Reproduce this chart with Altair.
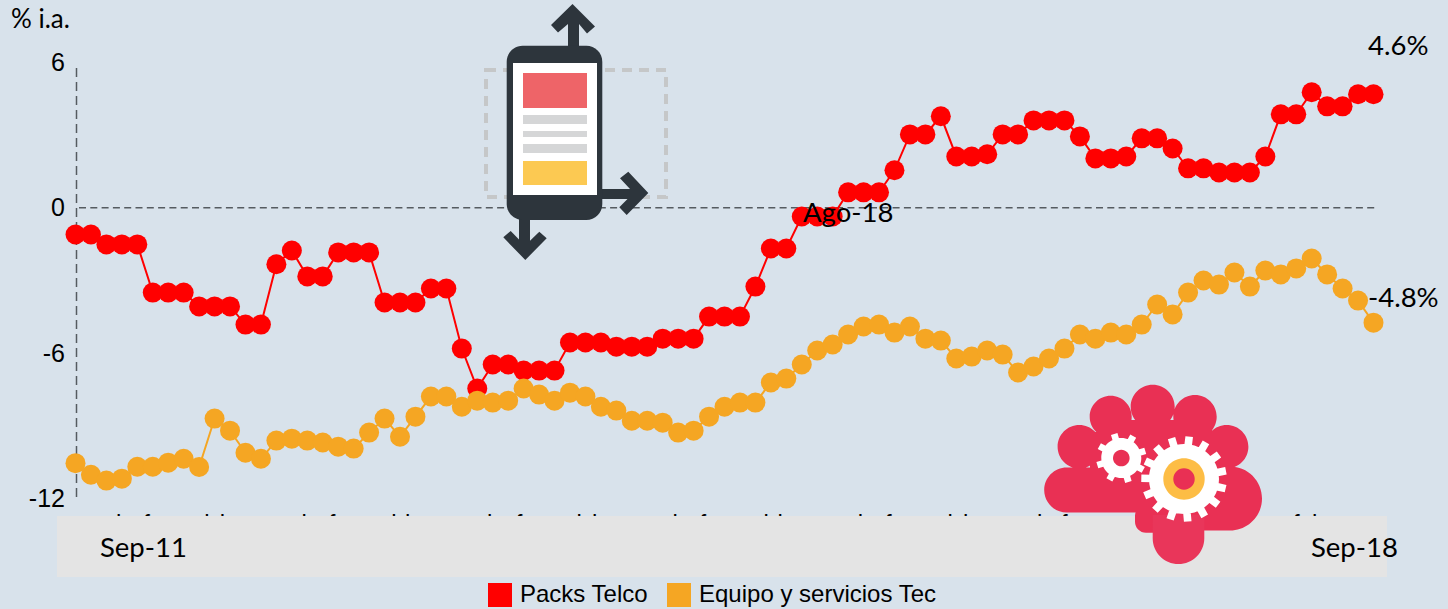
import math
import altair as alt
import pandas as pd

packs = [-1.10,-1.10,-1.51,-1.51,-1.51,-3.50,-3.50,-3.50,-4.07,-4.07,-4.07,-4.82,-4.82,-2.33,-1.76,-2.83,-2.83,-1.84,-1.84,-1.84,
         -3.91,-3.91,-3.91,-3.33,-3.33,-5.81,-7.46,-6.47,-6.47,-6.72,-6.72,-6.72,-5.56,-5.56,-5.56,-5.73,-5.73,-5.73,-5.40,-5.40,
         -5.40,-4.49,-4.49,-4.49,-3.25,-1.68,-1.68,-0.36,-0.36,-0.36,0.64,0.64,0.64,1.55,3.03,3.03,3.78,2.12,2.12,2.21,
         3.03,3.03,3.61,3.61,3.61,2.95,2.04,2.04,2.12,2.87,2.87,2.45,1.63,1.63,1.46,1.46,1.46,2.12,3.86,3.86,
         4.77,4.19,4.19,4.69,4.69]
equipo = [-10.54,-11.02,-11.26,-11.18,-10.69,-10.69,-10.52,-10.36,-10.70,-8.70,-9.20,-10.11,-10.36,-9.61,-9.53,-9.61,-9.69,-9.86,-9.94,-9.28,
          -8.70,-9.45,-8.62,-7.79,-7.79,-8.21,-7.96,-8.04,-7.96,-7.46,-7.71,-7.96,-7.63,-7.79,-8.21,-8.37,-8.79,-8.79,-8.87,-9.28,
          -9.20,-8.62,-8.21,-8.04,-8.04,-7.21,-7.05,-6.47,-5.89,-5.64,-5.23,-4.90,-4.82,-5.15,-4.90,-5.40,-5.48,-6.22,-6.14,-5.89,
          -6.06,-6.80,-6.55,-6.22,-5.81,-5.23,-5.40,-5.15,-5.23,-4.82,-3.99,-4.40,-3.50,-3.00,-3.17,-2.67,-3.25,-2.59,-2.75,-2.50,
          -2.09,-2.75,-3.33,-3.83,-4.74]
series_names = ["Packs Telco", "Equipo y servicios Tec"]
series_colors = ["#ff0000", "#f5a623"]
y_ticks = [-12, -6, 0, 6]
# Tops of hidden month labels that stick out above the grey band (month position, glyph)
tip_months = [2.8, 4.6, 8.5, 9.5, 14.8, 16.6, 20.6, 21.5, 26.8, 28.7, 32.6, 33.6, 38.8, 40.6, 44.7, 45.6,
              50.8, 52.6, 56.6, 57.6, 62.4, 64.0, 74.5, 76.1, 79.0, 80.2]
tip_glyphs = ["l", "f", "l", "l"] * 6 + ["f", "l"]

rows = []
for name, vals in zip(series_names, [packs, equipo]):
    for i, v in enumerate(vals):
        rows.append({"mes": i, "valor": v, "serie": name})
df = pd.DataFrame(rows)

BG = "#d8e2eb"
OX, OY = 75.5, 62.5
W, H = 1298, 436
xs = alt.Scale(domain=[0, 84], nice=False, zero=False)
ys = alt.Scale(domain=[-12, 6], nice=False, zero=False)
one = alt.Data(values=[{"a": 1}])


def px(x):
    return x - OX


def py(y):
    return y - OY


def rect(x0, y0, x1, y1):
    return f"M{x0} {y0}L{x1} {y0}L{x1} {y1}L{x0} {y1}Z"


def circ(cx, cy, r):
    return f"M{cx-r} {cy}A{r} {r} 0 1 1 {cx+r} {cy}A{r} {r} 0 1 1 {cx-r} {cy}Z"


def poly(pts):
    return "M" + "L".join(f"{a} {b}" for a, b in pts) + "Z"


def rrect(x0, y0, x1, y1, r):
    return (f"M{x0+r} {y0}L{x1-r} {y0}A{r} {r} 0 0 1 {x1} {y0+r}L{x1} {y1-r}A{r} {r} 0 0 1 {x1-r} {y1}"
            f"L{x0+r} {y1}A{r} {r} 0 0 1 {x0} {y1-r}L{x0} {y0+r}A{r} {r} 0 0 1 {x0+r} {y0}Z")


def gear(cx, cy, body, outer, width, n, start):
    parts = [circ(cx, cy, body)]
    for k in range(n):
        a = math.radians(start + k * 360 / n)
        ux, uy = math.sin(a), -math.cos(a)
        vx, vy = math.cos(a), math.sin(a)
        w = width / 2
        r0 = body - 2
        parts.append(poly([
            (cx + ux * r0 - vx * w, cy + uy * r0 - vy * w),
            (cx + ux * outer - vx * w, cy + uy * outer - vy * w),
            (cx + ux * outer + vx * w, cy + uy * outer + vy * w),
            (cx + ux * r0 + vx * w, cy + uy * r0 + vy * w),
        ]))
    return "".join(parts)


def shape(path, color):
    return alt.Chart(one).mark_point(shape=path, size=4, filled=True, fill=color, opacity=1, strokeWidth=0).encode(
        x=alt.value(-OX), y=alt.value(-OY))


def label(text, x, y, font="Lato", size=27.5, align="left"):
    return alt.Chart(one).mark_text(text=text, font=font, fontSize=size, align=align, baseline="alphabetic",
                                    color="#000000").encode(x=alt.value(px(x)), y=alt.value(py(y)))


y_axis = alt.Axis(values=y_ticks, domain=False, ticks=False, grid=False, labelFont="Liberation Sans", labelFontSize=25,
                  labelColor="#000000", labelPadding=11, labelExpr="'' + datum.value")
enc_x = alt.X("mes:Q", scale=xs, axis=None)
enc_y = alt.Y("valor:Q", scale=ys, title=None, axis=y_axis)

tips = pd.DataFrame({"mes": tip_months, "g": tip_glyphs})
tip_layer = alt.Chart(tips).mark_text(font="Liberation Sans", fontSize=24, color="#000000", baseline="alphabetic").encode(
    x=enc_x, y=alt.value(py(531)), text="g:N")
band = alt.Chart(one).mark_rect(color="#e4e4e4").encode(
    x=alt.value(px(57)), x2=alt.value(px(1387)), y=alt.value(py(516)), y2=alt.value(py(577)))
yaxis_rule = alt.Chart(one).mark_rule(color="#555b60", strokeWidth=1.5, strokeDash=[9, 5]).encode(
    x=alt.value(1), y=alt.value(py(68)), y2=alt.value(py(497)))
zero_rule = alt.Chart(pd.DataFrame({"valor": [0]})).mark_rule(color="#555b60", strokeWidth=1.5, strokeDash=[7, 4.3]).encode(
    y=enc_y, x=alt.value(px(79)), x2=alt.value(px(1376)))

color_scale = alt.Scale(domain=series_names, range=series_colors)
lines = [
    alt.Chart(df[df["serie"] == n]).mark_line(strokeWidth=2, color=c).encode(x=enc_x, y=enc_y)
    for n, c in zip(series_names, series_colors)
]
points = alt.Chart(df).mark_circle(size=400, opacity=1).encode(
    x=enc_x,
    y=enc_y,
    color=alt.Color("serie:N", scale=color_scale, legend=alt.Legend(
        orient="none", legendX=px(488), legendY=py(583), direction="horizontal", title=None, symbolType="square",
        symbolSize=576, symbolStrokeWidth=0, labelFont="Liberation Sans", labelFontSize=24, labelColor="#000000",
        labelOffset=8, columnPadding=18, padding=0, labelLimit=400)))

texts = [
    label("% i.a.", 11, 28, size=26),
    label("Sep-11", 100, 557),
    label("Sep-18", 1311, 557),
    label("Ago-18", 803, 222),
    label("4.6%", 1368, 55),
    label("-4.8%", 1368, 307),
]

# phone icon
DARK = "#2d353c"
phone = [
    alt.Chart(one).mark_point(shape=rect(486, 70, 666, 197), size=4, filled=False, stroke="#c5c7c8", opacity=1,
                              strokeWidth=4, strokeDash=[10, 7]).encode(x=alt.value(-OX), y=alt.value(-OY)),
    shape(poly([(572.5, 4), (595, 26.5), (587, 33.5), (579, 24), (579, 50), (568, 50), (568, 24), (558, 32.5), (551, 25)]), DARK),
    shape(poly([(600, 189), (630, 189), (620, 178.3), (628.3, 171.7), (648.3, 193), (626.7, 215), (619.3, 207.3), (627.5, 199), (600, 199)]), DARK),
    shape(poly([(519, 215), (530, 215), (530, 240.7), (539.3, 231.7), (546.7, 238.3), (525.3, 260), (503.3, 237.3), (510.7, 231), (519, 239.5)]), DARK),
    shape(rrect(506.7, 45.7, 602.3, 220, 16), DARK),
    shape(rect(513, 63, 597, 195), "#ffffff"),
    shape(rect(523, 73, 587, 108), "#ee6468"),
    shape(rect(523, 115, 587, 124), "#d5d6d7"),
    shape(rect(523, 131, 587, 137), "#d5d6d7"),
    shape(rect(523, 144, 587, 153), "#d5d6d7"),
    shape(rect(523, 161, 587, 185), "#fcc952"),
]

# head-with-gears icon
CRIM = "#e93054"
head_path = "".join([
    circ(1152.7, 406.7, 22), circ(1110.7, 416.7, 21), circ(1195, 416.7, 21.7), circ(1079.3, 446.7, 21.7),
    circ(1226.7, 446.7, 21.7), circ(1066.7, 490, 22.5), circ(1230, 498.5, 32),
    rect(1066.7, 467.5, 1230, 512.5), rect(1100, 420, 1212, 500), rect(1090, 432, 1232, 470),
    rect(1147, 470, 1230, 530.5), rrect(1135, 505, 1165, 532.7, 11),
])
stem_path = rect(1152.7, 515, 1204.3, 538.3) + circ(1178.5, 538.3, 25.8)
flower = [
    shape(head_path, CRIM),
    shape(stem_path, "#e9365a"),
    shape(gear(1121.3, 458, 20, 25, 6.7, 8, -16.5), "#ffffff"),
    shape(circ(1121.3, 458, 8.3), CRIM),
    shape(gear(1184, 479, 35, 42.7, 7.6, 15, 7), "#ffffff"),
    shape(circ(1184, 479, 20.7), "#fdbd45"),
    shape(circ(1184, 479, 10.7), CRIM),
]

chart = alt.layer(
    tip_layer, band, yaxis_rule, zero_rule, *lines, points, *texts, *phone, *flower
).properties(
    width=W, height=H, background=BG,
    autosize=alt.AutoSizeParams(type="none"),
    padding={"left": 75.5, "top": 62.5, "right": 74.5, "bottom": 110.5},
).configure_view(strokeWidth=0)

chart.save("out.html", embed_options={"renderer": "svg", "actions": False,
                                      "defaultStyle": "html,body{margin:0;overflow:hidden;background:#d8e2eb}"})
